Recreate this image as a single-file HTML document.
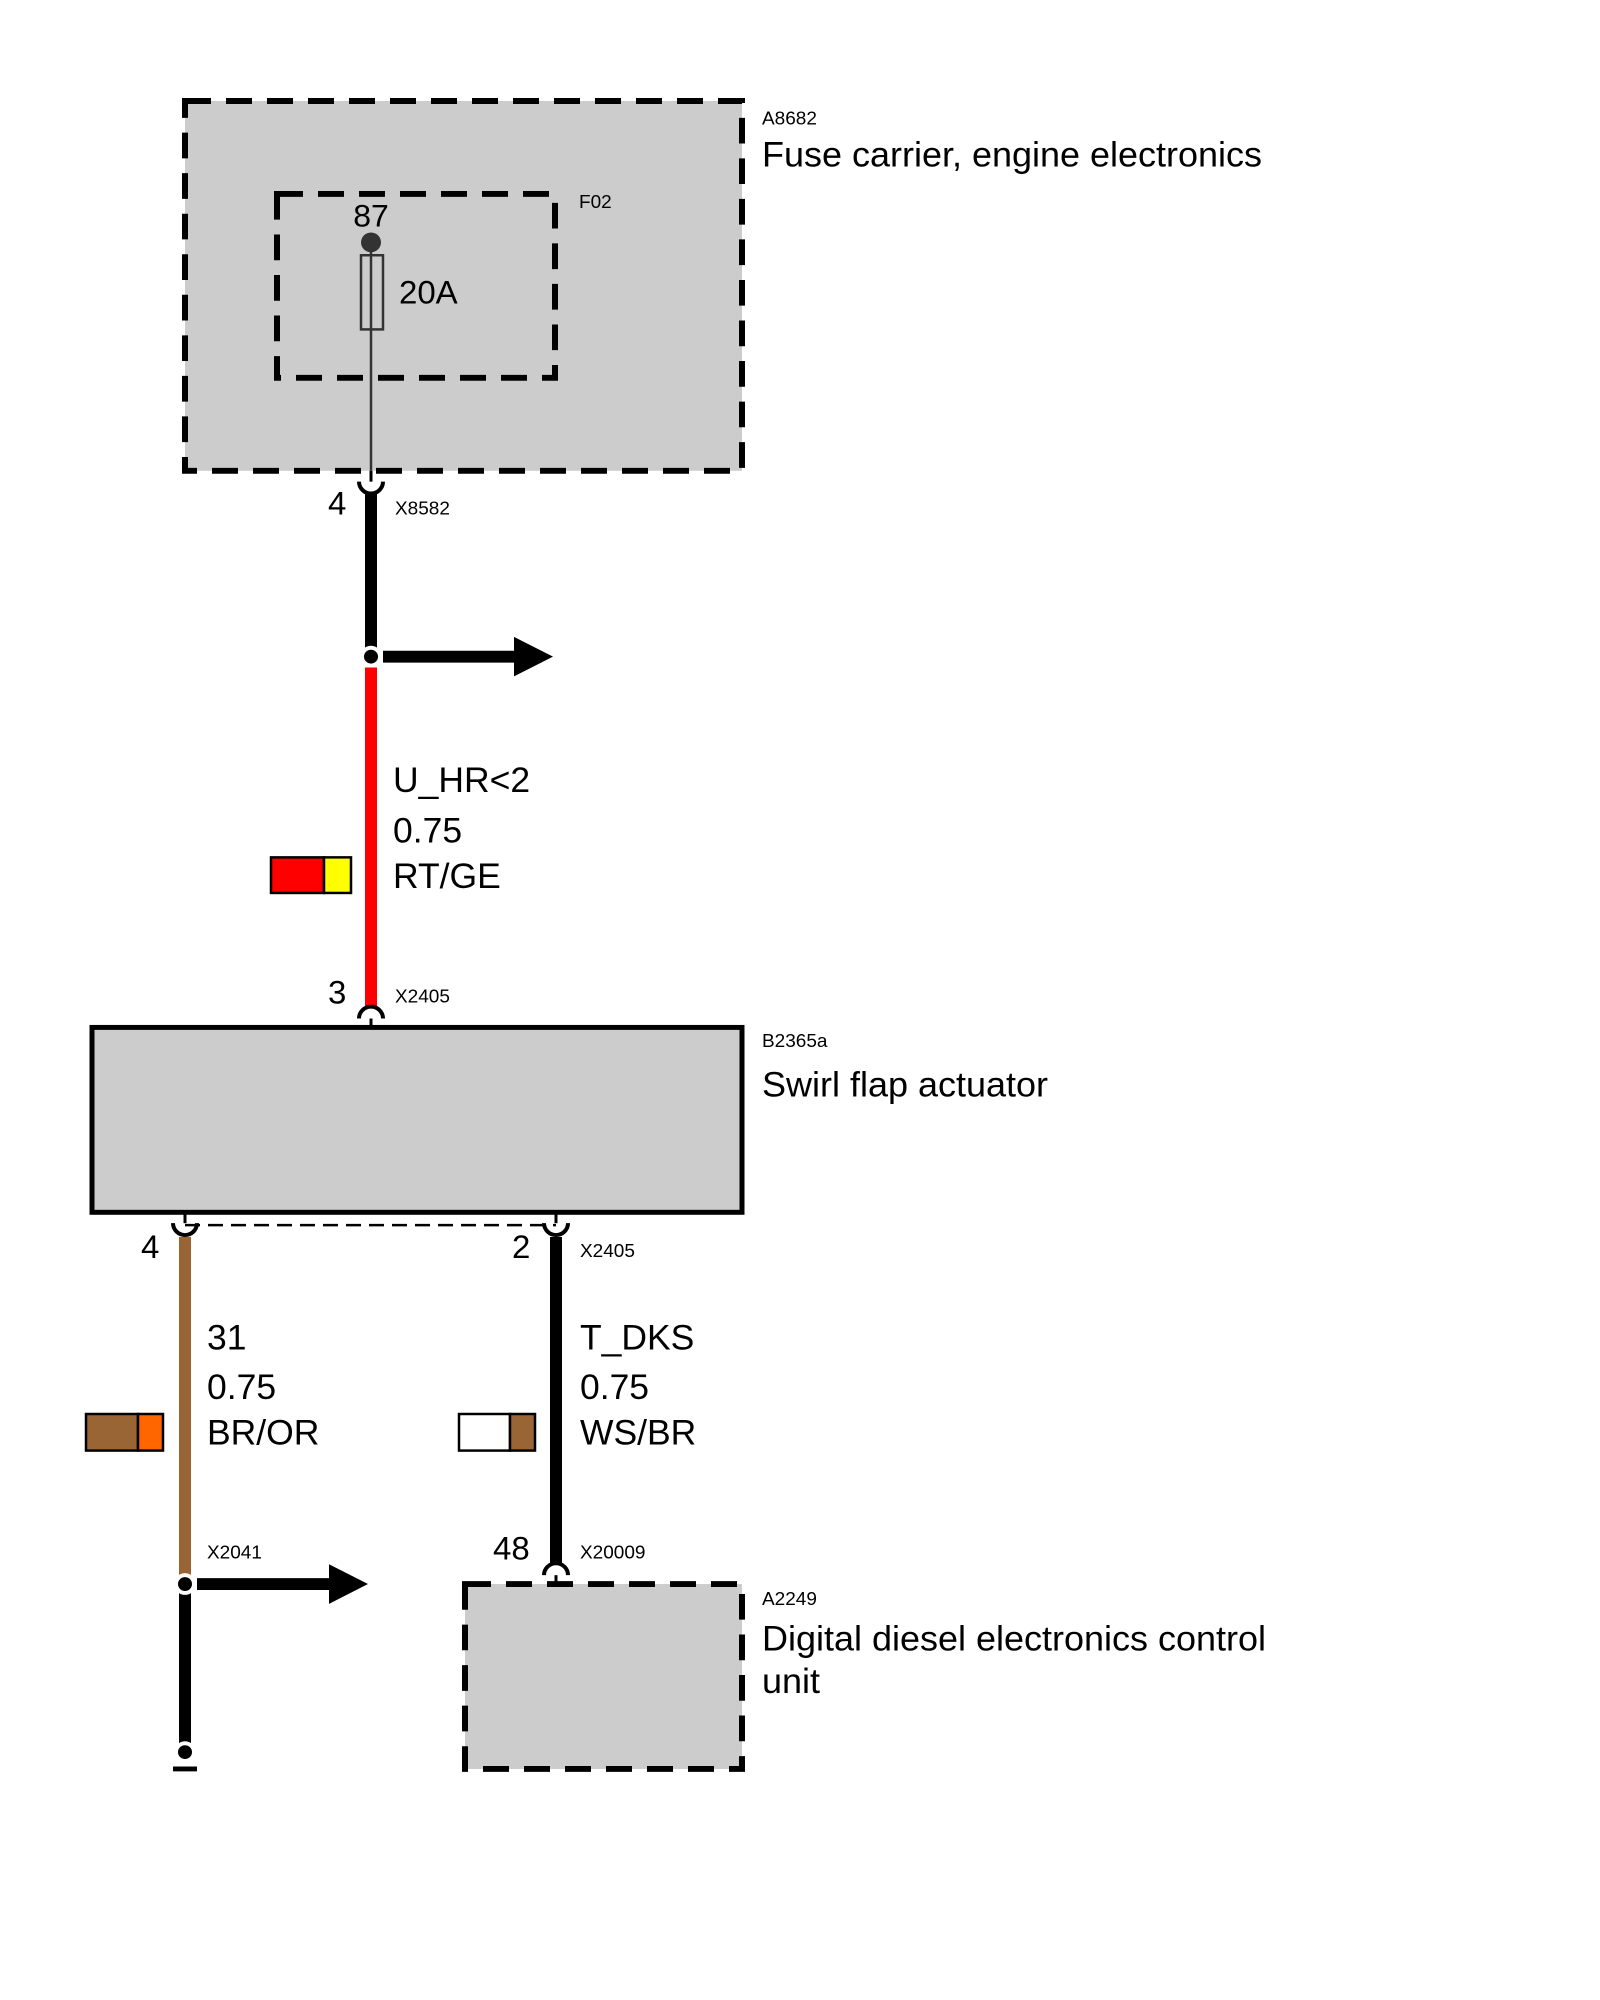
<!DOCTYPE html>
<html><head><meta charset="utf-8"><style>
html,body{margin:0;padding:0;background:#fff;}
svg{display:block;}
text{font-family:"Liberation Sans",Arial,sans-serif;fill:#000;}
</style></head><body>
<svg width="1600" height="2000" viewBox="0 0 1600 2000" xmlns="http://www.w3.org/2000/svg">
<g transform="matrix(1,0,0,0.9887,0,1.15)">
<rect x="185" y="101" width="557" height="374" fill="#cccccc" stroke="#000" stroke-width="6" stroke-dasharray="26 15"/>
<rect x="277" y="195" width="278" height="186" fill="none" stroke="#000" stroke-width="6" stroke-dasharray="26 15"/>
<line x1="371" y1="244" x2="371" y2="475" stroke="#333" stroke-width="2.5"/>
<rect x="361" y="257" width="22" height="75" fill="none" stroke="#333" stroke-width="2.5"/>
<circle cx="371" cy="244" r="10" fill="#333"/>
<text x="371" y="228" font-size="32" text-anchor="middle">87</text>
<text x="399" y="306" font-size="33">20A</text>
<text x="579" y="209" font-size="19">F02</text>
<text x="762" y="125" font-size="19">A8682</text>
<text x="762" y="167" font-size="36">Fuse carrier, engine electronics</text>

<line x1="371" y1="475" x2="371" y2="486" stroke="#000" stroke-width="3"/>
<path d="M359 486 A12 12 0 0 0 383 486" fill="none" stroke="#000" stroke-width="4"/>
<line x1="371" y1="497" x2="371" y2="656" stroke="#000" stroke-width="12"/>
<text x="328" y="519" font-size="33">4</text>
<text x="395" y="519" font-size="19">X8582</text>

<line x1="383" y1="663" x2="516" y2="663" stroke="#000" stroke-width="12"/>
<polygon points="514,643 553,663 514,683" fill="#000"/>
<circle cx="371" cy="663" r="11" fill="#fff"/>
<circle cx="371" cy="663" r="7" fill="#000"/>

<line x1="371" y1="674" x2="371" y2="1017" stroke="#ff0000" stroke-width="12"/>
<text x="393" y="800" font-size="35.5">U_HR&lt;2</text>
<text x="393" y="851" font-size="35.5">0.75</text>
<text x="393" y="897" font-size="35.5">RT/GE</text>
<rect x="271" y="866" width="53" height="36" fill="#ff0000" stroke="#000" stroke-width="2.5"/>
<rect x="324" y="866" width="27" height="36" fill="#ffff00" stroke="#000" stroke-width="2.5"/>

<path d="M359 1029 A12 12 0 0 1 383 1029" fill="none" stroke="#000" stroke-width="4"/>
<line x1="371" y1="1029" x2="371" y2="1038" stroke="#000" stroke-width="3"/>
<text x="328" y="1014" font-size="33">3</text>
<text x="395" y="1013" font-size="19">X2405</text>

<rect x="92" y="1038" width="650" height="187" fill="#cccccc" stroke="#000" stroke-width="5"/>
<text x="762" y="1058" font-size="19">B2365a</text>
<text x="762" y="1108" font-size="36">Swirl flap actuator</text>

<line x1="185" y1="1238" x2="556" y2="1238" stroke="#000" stroke-width="2.5" stroke-dasharray="15 8"/>
<line x1="185" y1="1225" x2="185" y2="1236" stroke="#000" stroke-width="3"/>
<line x1="556" y1="1225" x2="556" y2="1236" stroke="#000" stroke-width="3"/>
<path d="M173 1236 A12 12 0 0 0 197 1236" fill="none" stroke="#000" stroke-width="4"/>
<path d="M544 1236 A12 12 0 0 0 568 1236" fill="none" stroke="#000" stroke-width="4"/>
<text x="141" y="1271" font-size="33">4</text>
<text x="512" y="1271" font-size="33">2</text>
<text x="580" y="1270" font-size="19">X2405</text>

<line x1="185" y1="1250" x2="185" y2="1594" stroke="#9a6535" stroke-width="12"/>
<text x="207" y="1364" font-size="35.5">31</text>
<text x="207" y="1414" font-size="35.5">0.75</text>
<text x="207" y="1460" font-size="35.5">BR/OR</text>
<rect x="86" y="1429" width="52" height="37" fill="#9a6535" stroke="#000" stroke-width="2.5"/>
<rect x="138" y="1429" width="25" height="37" fill="#ff6600" stroke="#000" stroke-width="2.5"/>
<text x="207" y="1575" font-size="19">X2041</text>

<line x1="197" y1="1601" x2="331" y2="1601" stroke="#000" stroke-width="12"/>
<polygon points="329,1581 368,1601 329,1621" fill="#000"/>
<line x1="185" y1="1610" x2="185" y2="1765" stroke="#000" stroke-width="12"/>
<circle cx="185" cy="1601" r="11" fill="#fff"/>
<circle cx="185" cy="1601" r="7" fill="#000"/>
<circle cx="185" cy="1771" r="11" fill="#fff"/>
<circle cx="185" cy="1771" r="7" fill="#000"/>
<line x1="173" y1="1788" x2="197" y2="1788" stroke="#000" stroke-width="5"/>

<line x1="556" y1="1250" x2="556" y2="1580" stroke="#000" stroke-width="12"/>
<text x="580" y="1364" font-size="35.5">T_DKS</text>
<text x="580" y="1414" font-size="35.5">0.75</text>
<text x="580" y="1460" font-size="35.5">WS/BR</text>
<rect x="459" y="1429" width="51" height="37" fill="#ffffff" stroke="#000" stroke-width="2.5"/>
<rect x="510" y="1429" width="25" height="37" fill="#9a6535" stroke="#000" stroke-width="2.5"/>
<path d="M544 1592 A12 12 0 0 1 568 1592" fill="none" stroke="#000" stroke-width="4"/>
<line x1="556" y1="1592" x2="556" y2="1601" stroke="#000" stroke-width="3"/>
<text x="493" y="1576" font-size="33">48</text>
<text x="580" y="1575" font-size="19">X20009</text>

<rect x="465" y="1601" width="277" height="187" fill="#cccccc" stroke="#000" stroke-width="6" stroke-dasharray="26 15"/>
<text x="762" y="1622" font-size="19">A2249</text>
<text x="762" y="1668" font-size="36">Digital diesel electronics control</text>
<text x="762" y="1711" font-size="36">unit</text>
</g>
</svg>
</body></html>
